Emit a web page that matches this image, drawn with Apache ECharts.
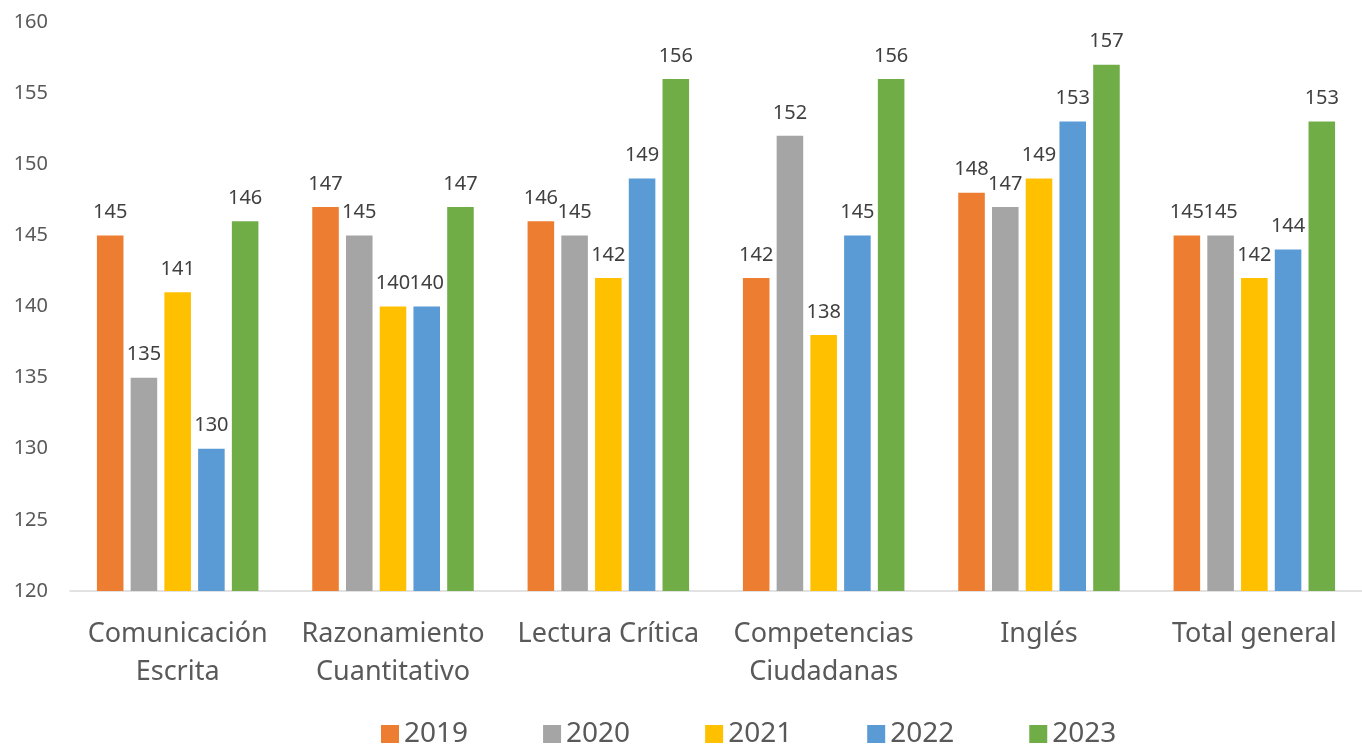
<!DOCTYPE html>
<html>
  <head>
    <meta charset="utf-8" />
    <title>Resultados por competencia</title>
    <script src="https://cdn.jsdelivr.net/npm/echarts@6/dist/echarts.min.js"></script>
    <style>
      html, body { margin: 0; padding: 0; background: #ffffff; }
      #main { width: 1362px; height: 746px; }
    </style>
  </head>
  <body>
    <div id="main"></div>
    <script type="text/javascript">
      var categories = [
        "Comunicación\nEscrita",
        "Razonamiento\nCuantitativo",
        "Lectura Crítica",
        "Competencias\nCiudadanas",
        "Inglés",
        "Total general",
      ];
      var years = ["2019", "2020", "2021", "2022", "2023"];
      var v2019 = [145, 147, 146, 142, 148, 145];
      var v2020 = [135, 145, 145, 152, 147, 145];
      var v2021 = [141, 140, 142, 138, 149, 142];
      var v2022 = [130, 140, 149, 145, 153, 144];
      var v2023 = [146, 147, 156, 156, 157, 153];
      var colors = ["#ED7D31", "#A5A5A5", "#FFC000", "#5B9BD5", "#70AD47"];

      var chart = echarts.init(document.getElementById("main"));
      var font = "'Noto Sans', 'Open Sans', sans-serif";

      var seriesValues = [v2019, v2020, v2021, v2022, v2023];
      var series = [];
      for (var i = 0; i < years.length; i++) {
        series.push({
          name: years[i],
          type: "bar",
          data: seriesValues[i],
          barGap: "27%",
          barCategoryGap: "25%",
          itemStyle: { color: colors[i] },
          label: {
            show: true,
            position: "top",
            distance: 13,
            color: "#404040",
            fontSize: 20,
            fontFamily: font,
          },
        });
      }

      var option = {
        animation: false,
        backgroundColor: "#ffffff",
        color: colors,
        grid: { left: 70, right: 0, top: 22, bottom: 155 },
        legend: {
          bottom: -7,
          left: 376,
          itemWidth: 18,
          itemHeight: 18,
          itemGap: 75,
          icon: "rect",
          textStyle: { fontSize: 28, color: "#595959", fontFamily: font },
          data: years,
        },
        xAxis: {
          type: "category",
          data: categories,
          axisLine: { lineStyle: { color: "#D9D9D9", width: 1.5 } },
          axisTick: { show: false },
          axisLabel: {
            interval: 0,
            margin: 24,
            fontSize: 27,
            lineHeight: 38,
            color: "#595959",
            fontFamily: font,
          },
        },
        yAxis: {
          type: "value",
          min: 120,
          max: 160,
          interval: 5,
          axisLine: { show: false },
          axisTick: { show: false },
          splitLine: { show: false },
          axisLabel: {
            margin: 22,
            fontSize: 20,
            color: "#595959",
            fontFamily: font,
          },
        },
        series: series,
      };

      chart.setOption(option);
    </script>
  </body>
</html>
